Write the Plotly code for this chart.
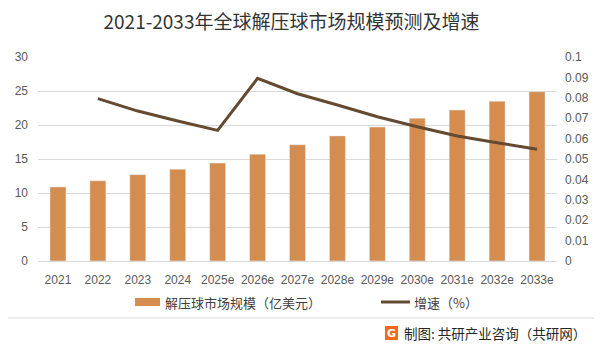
import plotly.graph_objects as go

categories = ["2021", "2022", "2023", "2024", "2025e", "2026e", "2027e",
              "2028e", "2029e", "2030e", "2031e", "2032e", "2033e"]
market_size = [10.9, 11.8, 12.7, 13.5, 14.4, 15.7, 17.1, 18.4, 19.7, 21.0, 22.2, 23.5, 24.9]
growth = [None, 0.0796, 0.0735, 0.0686, 0.0640, 0.0895, 0.0820, 0.0765, 0.0707,
          0.0658, 0.0613, 0.0580, 0.0548]
left_ticks = [0, 5, 10, 15, 20, 25, 30]
right_ticks = [0, 0.01, 0.02, 0.03, 0.04, 0.05, 0.06, 0.07, 0.08, 0.09, 0.1]
right_tick_text = ["0", "0.01", "0.02", "0.03", "0.04", "0.05", "0.06", "0.07", "0.08", "0.09", "0.1"]

BAR = "#D48C4F"
LINE = "#654A32"
FONT = "Noto Sans CJK SC"

W, H = 601, 346
L, R, T, B = 38, 44, 57, 85
PW, PH = W - L - R, H - T - B


def px(x):
    return (x - L) / PW


def py(y):
    return (H - B - y) / PH


fig = go.Figure()
fig.add_trace(go.Bar(x=categories, y=market_size, marker_color=BAR,
                     name="解压球市场规模（亿美元）", yaxis="y"))
fig.add_trace(go.Scatter(x=categories, y=growth, mode="lines",
                         line=dict(color=LINE, width=3), name="增速（%）", yaxis="y2"))

fig.update_layout(
    width=W, height=H,
    margin=dict(l=L, r=R, t=T, b=B),
    paper_bgcolor="white", plot_bgcolor="white",
    showlegend=False,
    bargap=0.6,
    font=dict(family=FONT, color="#595959", size=12),
    title=dict(text="2021-2033年全球解压球市场规模预测及增速", x=0.485, xanchor="center",
               y=1 - 22 / H, yanchor="middle",
               font=dict(size=19, color="#333333", family=FONT)),
    xaxis=dict(showgrid=False, showline=True, linecolor="#D9D9D9", linewidth=1,
               ticks="", ticklabelstandoff=8,
               tickfont=dict(size=12, color="#595959", family="Liberation Sans")),
    yaxis=dict(range=[0, 30], tickvals=left_ticks, showgrid=True, gridcolor="#D9D9D9",
               gridwidth=1, zeroline=False, showline=False, ticks="", ticklabelstandoff=9,
               tickfont=dict(size=12, color="#595959", family="Liberation Sans")),
    yaxis2=dict(range=[0, 0.1], tickvals=right_ticks, ticktext=right_tick_text,
                overlaying="y", side="right", showgrid=False, zeroline=False,
                showline=False, ticks="", ticklabelstandoff=7,
                tickfont=dict(size=12, color="#595959", family="Liberation Sans")),
)

shapes = []
annotations = []
# manual legend
shapes.append(dict(type="rect", xref="paper", yref="paper",
                   x0=px(135), x1=px(160), y0=py(306), y1=py(298),
                   fillcolor=BAR, line=dict(width=0)))
annotations.append(dict(text="解压球市场规模（亿美元）", xref="paper", yref="paper",
                        x=px(163), y=py(302), xanchor="left", yanchor="middle",
                        showarrow=False, font=dict(size=13, color="#404040", family=FONT)))
shapes.append(dict(type="line", xref="paper", yref="paper",
                   x0=px(381), x1=px(410), y0=py(302), y1=py(302),
                   line=dict(color=LINE, width=3)))
annotations.append(dict(text="增速（%）", xref="paper", yref="paper",
                        x=px(412), y=py(302), xanchor="left", yanchor="middle",
                        showarrow=False, font=dict(size=13, color="#404040", family=FONT)))
# separator
shapes.append(dict(type="line", xref="paper", yref="paper",
                   x0=px(8), x1=px(594), y0=py(318), y1=py(318),
                   line=dict(color="#D9D9D9", width=1)))
# footer logo + text
shapes.append(dict(type="rect", xref="paper", yref="paper",
                   x0=px(385), x1=px(398), y0=py(340), y1=py(326),
                   fillcolor="#F26A21", line=dict(width=0)))
annotations.append(dict(text="<b>G</b>", xref="paper", yref="paper",
                        x=px(391.5), y=py(333), xanchor="center", yanchor="middle",
                        showarrow=False, font=dict(size=11, color="white", family="DejaVu Sans")))
annotations.append(dict(text="制图: 共研产业咨询（共研网）", xref="paper", yref="paper",
                        x=px(402), y=py(333), xanchor="left", yanchor="middle",
                        showarrow=False, font=dict(size=13.5, color="#262626", family=FONT)))

fig.update_layout(shapes=shapes, annotations=annotations)
fig.write_html("out.html")
